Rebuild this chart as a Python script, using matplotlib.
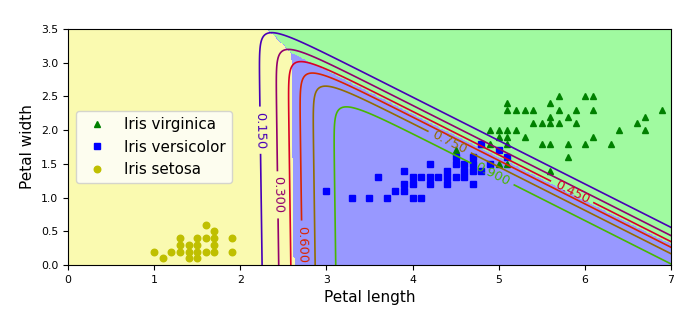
import numpy as np
import matplotlib
matplotlib.use("Agg")
import matplotlib.pyplot as plt
from matplotlib.colors import ListedColormap

# petal (length, width) of the three iris species
setosa_len = [1.0, 1.1, 1.2, 1.3, 1.3, 1.3, 1.4, 1.4, 1.4, 1.5, 1.5, 1.5, 1.5,
              1.6, 1.6, 1.6, 1.7, 1.7, 1.7, 1.7, 1.9, 1.9]
setosa_wid = [0.2, 0.1, 0.2, 0.2, 0.3, 0.4, 0.1, 0.2, 0.3, 0.1, 0.2, 0.3, 0.4,
              0.2, 0.4, 0.6, 0.2, 0.3, 0.4, 0.5, 0.2, 0.4]

versicolor_len = [3.0, 3.3, 3.5, 3.6, 3.7, 3.8, 3.9, 3.9, 3.9, 4.0, 4.0, 4.0,
                  4.1, 4.1, 4.2, 4.2, 4.2, 4.3, 4.4, 4.4, 4.4, 4.5, 4.5, 4.5,
                  4.6, 4.6, 4.6, 4.7, 4.7, 4.7, 4.7, 4.8, 4.8, 4.9, 5.0, 5.1]
versicolor_wid = [1.1, 1.0, 1.0, 1.3, 1.0, 1.1, 1.1, 1.2, 1.4, 1.0, 1.2, 1.3,
                  1.0, 1.3, 1.2, 1.3, 1.5, 1.3, 1.2, 1.3, 1.4, 1.3, 1.5, 1.6,
                  1.3, 1.4, 1.5, 1.2, 1.4, 1.5, 1.6, 1.4, 1.8, 1.5, 1.7, 1.6]

virginica_len = [4.5, 4.8, 4.9, 4.9, 5.0, 5.0, 5.0, 5.1, 5.1, 5.1, 5.1, 5.1,
                 5.1, 5.2, 5.2, 5.3, 5.3, 5.4, 5.4, 5.5, 5.5, 5.6, 5.6, 5.6,
                 5.6, 5.6, 5.7, 5.7, 5.7, 5.8, 5.8, 5.8, 5.9, 5.9, 6.0, 6.0,
                 6.1, 6.1, 6.1, 6.3, 6.4, 6.6, 6.7, 6.7, 6.9]
virginica_wid = [1.7, 1.8, 1.8, 2.0, 1.5, 1.9, 2.0, 1.5, 1.8, 1.9, 2.0, 2.3,
                 2.4, 2.0, 2.3, 1.9, 2.3, 2.1, 2.3, 1.8, 2.1, 1.4, 1.8, 2.1,
                 2.2, 2.4, 2.1, 2.3, 2.5, 1.6, 1.8, 2.2, 2.1, 2.3, 1.8, 2.5,
                 1.9, 2.3, 2.5, 1.8, 2.0, 2.1, 2.0, 2.2, 2.3]

# softmax regression parameters (setosa, versicolor, virginica)
coef_len = [0.0, 4.6, 9.27]
coef_wid = [0.0, 0.05, 7.3]
intercept = [0.0, -12.1, -47.1]

x0, x1 = np.meshgrid(np.linspace(0, 8, 500), np.linspace(0, 3.5, 200))
scores = np.stack([a * x0 + b * x1 + c
                   for a, b, c in zip(coef_len, coef_wid, intercept)])
scores -= scores.max(axis=0)
proba = np.exp(scores)
proba /= proba.sum(axis=0)
zz1 = proba[1]
zz = proba.argmax(axis=0)

fig = plt.figure(figsize=(6.84, 3.23), dpi=100)
ax = fig.add_axes([0.0994, 0.1796, 0.8816, 0.7304])

ax.plot(virginica_len, virginica_wid, "g^", ms=4.7, label="Iris virginica")
ax.plot(versicolor_len, versicolor_wid, "bs", ms=4.7, label="Iris versicolor")
ax.plot(setosa_len, setosa_wid, "yo", ms=4.7, label="Iris setosa")
ax.axis([0, 7, 0, 3.5])

custom_cmap = ListedColormap(['#fafab0', '#9898ff', '#a0faa0'])
ax.contourf(x0, x1, zz, levels=[-0.5, 0.5, 1.5, 2.5], cmap=custom_cmap)

# versicolor probability lines, coloured as brg over 0 .. 1.05
levels = np.array([0.15, 0.3, 0.45, 0.6, 0.75, 0.9])
line_colors = plt.cm.brg(levels / 1.05)
contour = ax.contour(x0, x1, zz1, levels=levels, colors=line_colors,
                     linewidths=1.2)
ax.axis([0, 7, 0, 3.5])
ax.clabel(contour, inline=True, fontsize=9.4, fmt="%.3f",
          manual=[(2.24, 2.0), (2.43, 1.04), (5.85, 1.08),
                  (2.72, 0.31), (4.43, 1.82), (4.92, 1.33)])

ax.set_xlabel("Petal length", fontsize=11)
ax.set_ylabel("Petal width", fontsize=11)
ax.tick_params(labelsize=7.8)
ax.legend(loc="center left", fontsize=10.9)
ax.axis([0, 7, 0, 3.5])

fig.savefig("out.png", dpi=100)
